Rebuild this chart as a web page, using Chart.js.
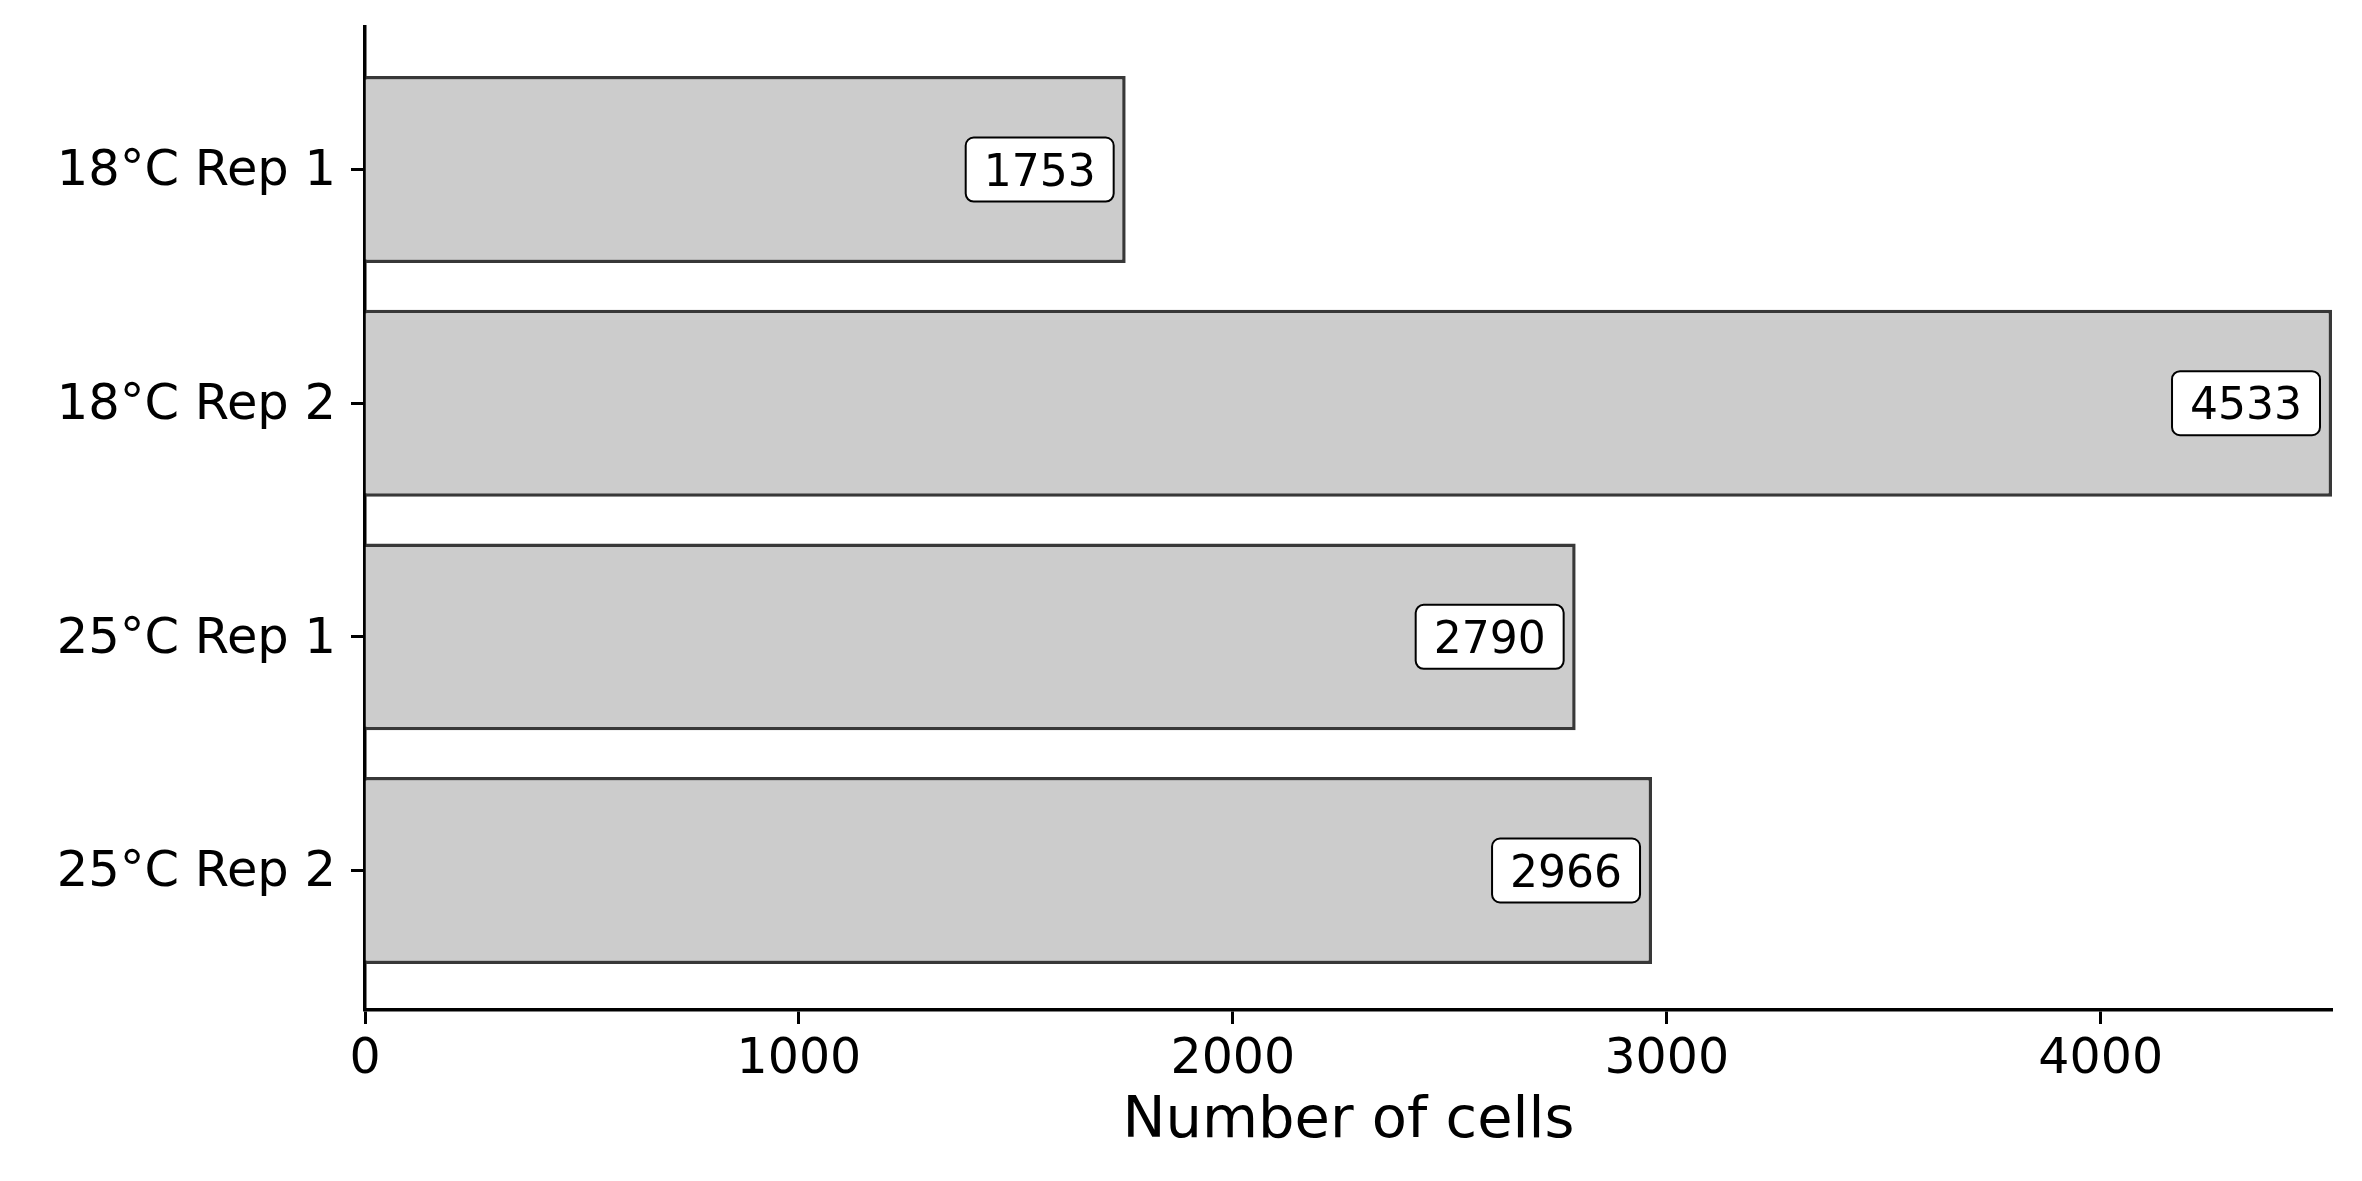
<!DOCTYPE html>
<html><head><meta charset="utf-8">
<script src="https://cdn.jsdelivr.net/npm/chart.js@4.4.1/dist/chart.umd.min.js"></script>
<style>html,body{margin:0;padding:0;background:#fff}</style>
</head><body>
<canvas id="c" width="2362" height="1181"></canvas>
<script>
const categories = ['18°C Rep 1', '18°C Rep 2', '25°C Rep 1', '25°C Rep 2'];
const cellCounts = [1753, 4533, 2790, 2966];
const xTickValues = [0, 1000, 2000, 3000, 4000];
const FONT = 'DejaVu Sans';

function roundRectPath(ctx, x, y, w, h, r) {
  ctx.beginPath();
  ctx.moveTo(x + r, y);
  ctx.lineTo(x + w - r, y);
  ctx.arcTo(x + w, y, x + w, y + r, r);
  ctx.lineTo(x + w, y + h - r);
  ctx.arcTo(x + w, y + h, x + w - r, y + h, r);
  ctx.lineTo(x + r, y + h);
  ctx.arcTo(x, y + h, x, y + h - r, r);
  ctx.lineTo(x, y + r);
  ctx.arcTo(x, y, x + r, y, r);
  ctx.closePath();
}

const valueLabels = {
  id: 'valueLabels',
  afterDatasetsDraw(chart) {
    const ctx = chart.ctx;
    const meta = chart.getDatasetMeta(0);
    const fs = 44;
    ctx.save();
    ctx.font = fs + 'px "' + FONT + '"';
    meta.data.forEach((bar, i) => {
      const txt = String(cellCounts[i]);
      const w = ctx.measureText(txt).width;
      const padX = 18, h = 64;
      const right = bar.x - 12;
      const left = right - w - 2 * padX;
      const top = bar.y - h / 2;
      roundRectPath(ctx, left, top, w + 2 * padX, h, 8);
      ctx.fillStyle = '#fff';
      ctx.fill();
      ctx.lineWidth = 2;
      ctx.strokeStyle = '#000';
      ctx.stroke();
      ctx.fillStyle = '#000';
      ctx.textAlign = 'center';
      ctx.textBaseline = 'alphabetic';
      ctx.fillText(txt, (left + right) / 2, bar.y + 0.729 * fs / 2);
    });
    ctx.restore();
  }
};

const axisBorder = {display: true, color: '#000', width: 3.5};

new Chart(document.getElementById('c'), {
  type: 'bar',
  data: {
    datasets: [{
      data: cellCounts.map((v, i) => ({x: v, y: i})),
      backgroundColor: '#cccccc',
      borderColor: '#383838',
      borderWidth: 3.5,
      barPercentage: 0.8,
      categoryPercentage: 1.0
    }]
  },
  options: {
    indexAxis: 'y',
    responsive: false,
    animation: false,
    devicePixelRatio: 1,
    layout: {padding: {top: 27, right: 30, left: 0, bottom: 0}},
    plugins: {legend: {display: false}, tooltip: {enabled: false}},
    scales: {
      x: {
        type: 'linear', position: 'bottom', min: 0, max: 4533, offset: false,
        afterBuildTicks: s => { s.ticks = xTickValues.map(v => ({value: v})); },
        afterFit: s => { s.height = 171; s.paddingLeft = 0; s.paddingRight = 0; },
        grid: {offset: false, drawOnChartArea: false, drawTicks: true, tickLength: 14, tickWidth: 3, tickColor: '#000'},
        border: axisBorder,
        ticks: {color: '#000', font: {family: FONT, size: 49}, padding: 7, maxRotation: 0, autoSkip: false,
                callback: v => String(v)},
        title: {display: true, text: 'Number of cells', color: '#000', font: {family: FONT, size: 57.5}, padding: {top: 0, bottom: 24}}
      },
      y: {
        type: 'linear', position: 'left', min: -0.61, max: 3.597, reverse: true, offset: false,
        afterBuildTicks: s => { s.ticks = categories.map((c, i) => ({value: i})); },
        afterFit: s => { s.width = 365; s.paddingTop = 0; s.paddingBottom = 0; },
        grid: {offset: false, drawOnChartArea: false, drawTicks: true, tickLength: 14, tickWidth: 3, tickColor: '#000'},
        border: axisBorder,
        ticks: {color: '#000', font: {family: FONT, size: 49.5}, padding: 15, labelOffset: 3, autoSkip: false,
                callback: v => categories[v]}
      }
    }
  },
  plugins: [valueLabels]
});
</script>
</body></html>
